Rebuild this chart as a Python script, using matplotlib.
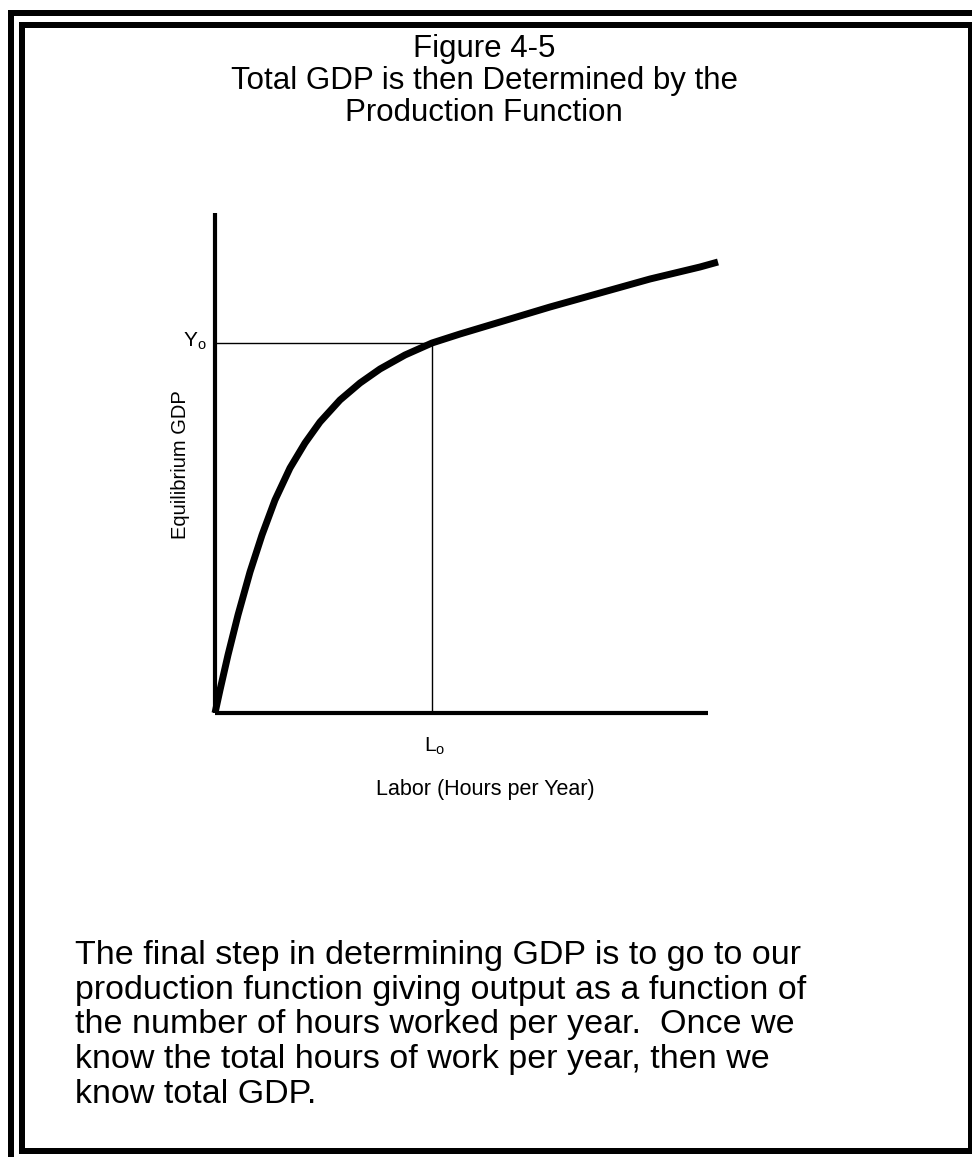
import matplotlib
matplotlib.use("Agg")
import matplotlib.pyplot as plt
from matplotlib.patches import Rectangle

plt.rcParams['font.family'] = ['Liberation Sans', 'DejaVu Sans']

# production function (arbitrary units)
labor = [0, 5, 13, 23, 35, 47, 60, 75, 90, 105, 125, 145, 165, 190, 217,
         245, 285, 335, 385, 435, 485, 503]
output = [0, 23, 58, 98, 141, 178, 213, 245, 270, 291, 313, 330, 344, 358, 370,
          379, 391, 406, 420, 434, 446, 451]
L0 = 217
Y0 = 370

title = "Figure 4-5\nTotal GDP is then Determined by the\nProduction Function"
caption = ("The final step in determining GDP is to go to our\n"
           "production function giving output as a function of\n"
           "the number of hours worked per year.  Once we\n"
           "know the total hours of work per year, then we\n"
           "know total GDP.")

W, H = 972, 1157
fig = plt.figure(figsize=(W / 100, H / 100), dpi=100)

# double frame, given in image pixels (y down)
def px_rect(x0, y0, x1, y1):
    return Rectangle((x0 / W, 1 - y1 / H), (x1 - x0) / W, (y1 - y0) / H,
                     transform=fig.transFigure, color="black", lw=0)

for r in [
    px_rect(8, 10, W, 16), px_rect(8, 10, 14, H),             # outer
    px_rect(19, 22, W, 28), px_rect(19, 22, 25, 1154),         # inner top / left
    px_rect(968, 22, W, 1154), px_rect(19, 1148, W, 1154)      # inner right / bottom
]:
    fig.patches.append(r)

fig.text(484 / W, 1 - 81 / H, title, ha="center", va="center", fontsize=22.5,
         linespacing=1.1)

fig.text(75 / W, 1 - 1025 / H, caption, ha="left", va="center", fontsize=24.5,
         linespacing=1.15)

# axes: data units match picture pixels from the origin
ax = fig.add_axes([215 / W, 1 - 713 / H, 505 / W, 500 / H])
ax.set_xlim(0, 505)
ax.set_ylim(0, 500)
ax.axis("off")

ax.plot([0, 0], [0, 500], color="black", lw=3, solid_capstyle="butt", clip_on=False)
ax.plot([0, 493], [0, 0], color="black", lw=3, solid_capstyle="butt", clip_on=False)
ax.plot([0, L0], [Y0, Y0], color="black", lw=1)
ax.plot([L0, L0], [0, Y0], color="black", lw=1)
ax.plot(labor, output, color="black", lw=5, solid_capstyle="butt",
        solid_joinstyle="round", clip_on=False)

ax.text(-20, Y0 + 2, r"Y$_\mathregular{o}$", ha="center", va="center", fontsize=15)
ax.text(L0 + 3, -33, r"L$_\mathregular{o}$", ha="center", va="center", fontsize=15)
ax.text(-35, 248, "Equilibrium GDP", rotation=90, ha="center", va="center", fontsize=14.5)
ax.text(270, -77, "Labor (Hours per Year)", ha="center", va="center", fontsize=15.5)

fig.savefig("out.png", dpi=100)
